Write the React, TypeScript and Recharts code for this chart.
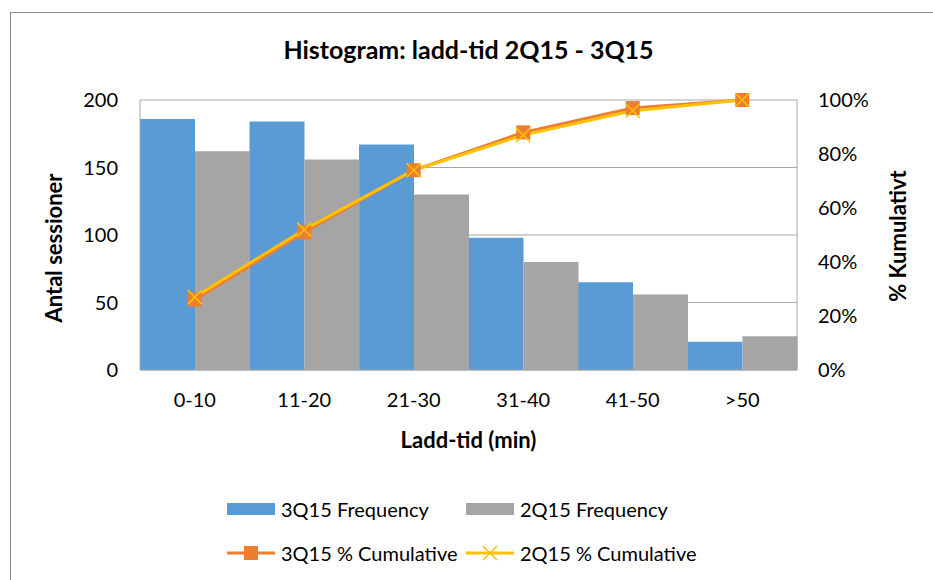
import React from 'react';
import { ComposedChart, Bar, Line, XAxis, YAxis, CartesianGrid, Legend, Label } from 'recharts';

const categories = ['0-10', '11-20', '21-30', '31-40', '41-50', '>50'];
const freq3Q15 = [186, 184, 167, 98, 65, 21];
const freq2Q15 = [162, 156, 130, 80, 56, 25];
const cum3Q15 = [26, 51, 74, 88, 97, 100];
const cum2Q15 = [27, 52, 74, 87, 96, 100];
const leftTicks = [0, 50, 100, 150, 200];
const rightTicks = [0, 20, 40, 60, 80, 100];

const data = categories.map((range, i) => ({
  range,
  f3: freq3Q15[i],
  f2: freq2Q15[i],
  c3: cum3Q15[i],
  c2: cum2Q15[i],
}));

const FONT = 'Lato, "Open Sans", sans-serif';
const BLUE = '#5B9BD5';
const GRAY = '#A5A5A5';
const ORANGE = '#ED7D31';
const YELLOW = '#FFC000';
const GRID = '#A6A6A6';

const SquareDot = (props: any) => {
  const { cx, cy, index } = props;
  if (cx == null || cy == null) return null;
  return <rect key={`sq-${index}`} x={cx - 7} y={cy - 7} width={14} height={14} fill={ORANGE} />;
};

const CrossDot = (props: any) => {
  const { cx, cy, index } = props;
  if (cx == null || cy == null) return null;
  return (
    <g key={`x-${index}`}>
      <line x1={cx - 7} y1={cy - 7} x2={cx + 7} y2={cy + 7} stroke={YELLOW} strokeWidth={1.5} />
      <line x1={cx - 7} y1={cy + 7} x2={cx + 7} y2={cy - 7} stroke={YELLOW} strokeWidth={1.5} />
    </g>
  );
};

const legendPos: Record<string, { left: number; top: number }> = {
  f3: { left: 227, top: 0 },
  f2: { left: 466, top: 0 },
  c3: { left: 227, top: 44 },
  c2: { left: 466, top: 44 },
};

const LegendIcon = ({ dataKey }: { dataKey: string }) => {
  if (dataKey === 'f3' || dataKey === 'f2') {
    return (
      <svg width={48} height={14}>
        <rect x={0} y={1} width={48} height={12} fill={dataKey === 'f3' ? BLUE : GRAY} />
      </svg>
    );
  }
  const color = dataKey === 'c3' ? ORANGE : YELLOW;
  return (
    <svg width={48} height={16}>
      <line x1={0} y1={8} x2={48} y2={8} stroke={color} strokeWidth={3} />
      {dataKey === 'c3' ? (
        <rect x={17} y={1} width={14} height={14} fill={ORANGE} />
      ) : (
        <g>
          <line x1={17} y1={1} x2={31} y2={15} stroke={YELLOW} strokeWidth={1.5} />
          <line x1={17} y1={15} x2={31} y2={1} stroke={YELLOW} strokeWidth={1.5} />
        </g>
      )}
    </svg>
  );
};

const renderLegend = (props: any) => {
  const { payload } = props;
  return (
    <div style={{ position: 'relative', width: 933, height: 70 }}>
      {payload.map((p: any) => {
        const pos = legendPos[p.dataKey];
        if (!pos) return null;
        return (
          <div
            key={p.dataKey}
            style={{
              position: 'absolute',
              left: pos.left,
              top: pos.top,
              display: 'flex',
              alignItems: 'center',
              gap: 6,
              fontFamily: FONT,
              fontSize: 20,
              color: '#000',
              whiteSpace: 'nowrap',
              lineHeight: '28px',
            }}
          >
            <LegendIcon dataKey={p.dataKey} />
            <span>{p.value}</span>
          </div>
        );
      })}
    </div>
  );
};

const YLeftLabel = (props: any) => {
  const { viewBox } = props;
  const x = viewBox.x + 53;
  const y = viewBox.y + viewBox.height / 2 + 13;
  return (
    <text x={x} y={y} transform={`rotate(-90 ${x} ${y})`} textAnchor="middle" dominantBaseline="central"
      style={{ fontFamily: FONT, fontSize: 22, fontWeight: 700, fill: '#000' }}>
      Antal sessioner
    </text>
  );
};

const YRightLabel = (props: any) => {
  const { viewBox } = props;
  const x = viewBox.x + 100;
  const y = viewBox.y + viewBox.height / 2 + 1;
  return (
    <text x={x} y={y} transform={`rotate(-90 ${x} ${y})`} textAnchor="middle" dominantBaseline="central"
      style={{ fontFamily: FONT, fontSize: 22, fontWeight: 700, fill: '#000' }}>
      % Kumulativt
    </text>
  );
};

export default function App() {
  return (
    <div style={{ position: 'absolute', left: 0, top: 0, width: 933, height: 580, background: '#fff', overflow: 'hidden' }}>
      <div style={{ position: 'absolute', left: 10, top: 12, width: 1000, height: 1000, borderLeft: '1px solid #8C8C8C', borderTop: '1px solid #8C8C8C' }} />
      <div
        style={{
          position: 'absolute',
          left: 0,
          top: 34,
          width: 937,
          textAlign: 'center',
          fontFamily: FONT,
          fontSize: 25,
          fontWeight: 700,
          color: '#000',
        }}
      >
        Histogram: ladd-tid 2Q15 - 3Q15
      </div>
      <div style={{ position: 'absolute', left: 0, top: 0 }}>
        <ComposedChart
          width={933}
          height={580}
          data={data}
          margin={{ top: 100, right: 0, bottom: 130, left: 0 }}
          barCategoryGap={0}
          barGap={0}
        >
          <CartesianGrid vertical={false} stroke={GRID} yAxisId="left" />
          <XAxis
            dataKey="range"
            height={80}
            tickLine={false}
            axisLine={{ stroke: GRID }}
            tickMargin={17}
            tick={{ fontFamily: FONT, fontSize: 20, fill: '#000' }}
          >
            <Label value="Ladd-tid (min)" position="insideBottom" offset={2}
              style={{ fontFamily: FONT, fontSize: 22, fontWeight: 700, fill: '#000' }} />
          </XAxis>
          <YAxis
            yAxisId="left"
            width={140}
            domain={[0, 200]}
            ticks={leftTicks}
            tickLine={false}
            axisLine={{ stroke: GRID }}
            tickMargin={16}
            tick={{ fontFamily: FONT, fontSize: 20, fill: '#000' }}
          >
            <Label content={<YLeftLabel />} />
          </YAxis>
          <YAxis
            yAxisId="right"
            orientation="right"
            width={136}
            domain={[0, 100]}
            ticks={rightTicks}
            tickFormatter={(v: number) => `${v}%`}
            tickLine={false}
            axisLine={{ stroke: GRID }}
            tickMargin={15}
            tick={{ fontFamily: FONT, fontSize: 20, fill: '#000', textAnchor: 'start' }}
          >
            <Label content={<YRightLabel />} />
          </YAxis>
          <Bar yAxisId="left" dataKey="f3" name="3Q15 Frequency" fill={BLUE} isAnimationActive={false} />
          <Bar yAxisId="left" dataKey="f2" name="2Q15 Frequency" fill={GRAY} isAnimationActive={false} />
          <Line yAxisId="right" dataKey="c3" name="3Q15 % Cumulative" stroke={ORANGE} strokeWidth={3}
            dot={<SquareDot />} activeDot={false} isAnimationActive={false} />
          <Line yAxisId="right" dataKey="c2" name="2Q15 % Cumulative" stroke={YELLOW} strokeWidth={3}
            dot={<CrossDot />} activeDot={false} isAnimationActive={false} />
          <Legend
            layout="horizontal"
            verticalAlign="middle"
            align="center"
            content={renderLegend}
            wrapperStyle={{ position: 'absolute', left: 0, top: 495, width: 933 }}
          />
        </ComposedChart>
      </div>
    </div>
  );
}
